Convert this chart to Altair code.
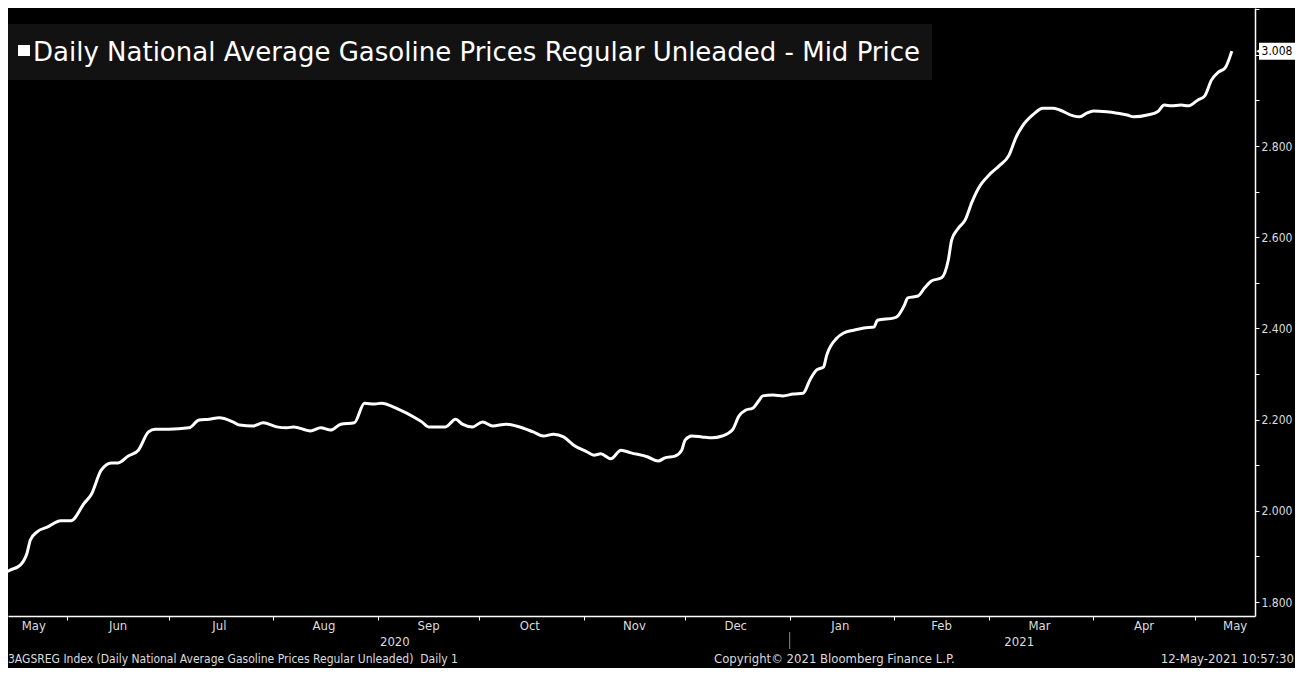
import altair as alt
import pandas as pd

# ---------------- data ----------------
dates = [
    "2020-05-12", "2020-05-15", "2020-05-18", "2020-05-20", "2020-05-21", "2020-05-23",
    "2020-05-26", "2020-05-30", "2020-06-02", "2020-06-06", "2020-06-08", "2020-06-11",
    "2020-06-14", "2020-06-16", "2020-06-19", "2020-06-22", "2020-06-25", "2020-06-27",
    "2020-07-01", "2020-07-07", "2020-07-10", "2020-07-13", "2020-07-16", "2020-07-20",
    "2020-07-22", "2020-07-26", "2020-07-29", "2020-08-02", "2020-08-05", "2020-08-07",
    "2020-08-12", "2020-08-15", "2020-08-18", "2020-08-21", "2020-08-25", "2020-08-28",
    "2020-08-31", "2020-09-02", "2020-09-07", "2020-09-12", "2020-09-14", "2020-09-16",
    "2020-09-21", "2020-09-24", "2020-09-26", "2020-09-29", "2020-10-02", "2020-10-05",
    "2020-10-09", "2020-10-12", "2020-10-17", "2020-10-20", "2020-10-23", "2020-10-26",
    "2020-10-29", "2020-11-02", "2020-11-04", "2020-11-06", "2020-11-09", "2020-11-12",
    "2020-11-15", "2020-11-20", "2020-11-23", "2020-11-25", "2020-11-28", "2020-11-30",
    "2020-12-01", "2020-12-03", "2020-12-06", "2020-12-09", "2020-12-12", "2020-12-15",
    "2020-12-17", "2020-12-19", "2020-12-21", "2020-12-23", "2020-12-24", "2020-12-27",
    "2020-12-30", "2021-01-02", "2021-01-05", "2021-01-07", "2021-01-09", "2021-01-11",
    "2021-01-12", "2021-01-15", "2021-01-17", "2021-01-20", "2021-01-23", "2021-01-26",
    "2021-01-27", "2021-02-01", "2021-02-02", "2021-02-04", "2021-02-05", "2021-02-08",
    "2021-02-10", "2021-02-12", "2021-02-15", "2021-02-17", "2021-02-18", "2021-02-20",
    "2021-02-22", "2021-02-24", "2021-02-26", "2021-02-27", "2021-03-01", "2021-03-04",
    "2021-03-07", "2021-03-09", "2021-03-11", "2021-03-14", "2021-03-17", "2021-03-20",
    "2021-03-22", "2021-03-26", "2021-03-28", "2021-03-30", "2021-04-01", "2021-04-05",
    "2021-04-08", "2021-04-11", "2021-04-13", "2021-04-17", "2021-04-20", "2021-04-22",
    "2021-04-24", "2021-04-27", "2021-04-29", "2021-05-02", "2021-05-04", "2021-05-06",
    "2021-05-08", "2021-05-10", "2021-05-12",
]
prices = [
    1.859, 1.870, 1.881, 1.907, 1.936, 1.954,
    1.964, 1.978, 1.978, 2.017, 2.035, 2.089,
    2.105, 2.105, 2.120, 2.133, 2.173, 2.179,
    2.179, 2.182, 2.199, 2.201, 2.204, 2.195,
    2.188, 2.186, 2.193, 2.184, 2.182, 2.184,
    2.175, 2.182, 2.177, 2.190, 2.193, 2.236,
    2.234, 2.236, 2.223, 2.204, 2.195, 2.184,
    2.184, 2.201, 2.190, 2.184, 2.195, 2.186,
    2.190, 2.186, 2.173, 2.164, 2.168, 2.162,
    2.144, 2.129, 2.122, 2.125, 2.114, 2.133,
    2.127, 2.118, 2.109, 2.116, 2.120, 2.133,
    2.155, 2.164, 2.162, 2.160, 2.164, 2.177,
    2.208, 2.221, 2.225, 2.243, 2.252, 2.254,
    2.252, 2.256, 2.258, 2.287, 2.309, 2.315,
    2.342, 2.379, 2.390, 2.396, 2.401, 2.403,
    2.418, 2.423, 2.427, 2.451, 2.467, 2.471,
    2.489, 2.504, 2.511, 2.550, 2.594, 2.620,
    2.638, 2.677, 2.708, 2.719, 2.736, 2.756,
    2.780, 2.818, 2.844, 2.868, 2.883, 2.883,
    2.879, 2.866, 2.864, 2.872, 2.877, 2.875,
    2.872, 2.868, 2.864, 2.868, 2.875, 2.890,
    2.888, 2.890, 2.888, 2.901, 2.910, 2.945,
    2.962, 2.971, 3.008,
]

month_ticks = [
    "2020-06-01", "2020-07-01", "2020-08-01", "2020-09-01", "2020-10-01", "2020-11-01",
    "2020-12-01", "2021-01-01", "2021-02-01", "2021-03-01", "2021-04-01", "2021-05-01",
]
month_label_dates = [
    "2020-05-22", "2020-06-16", "2020-07-16", "2020-08-16", "2020-09-16", "2020-10-16",
    "2020-11-16", "2020-12-16", "2021-01-16", "2021-02-15", "2021-03-16", "2021-04-16",
    "2021-05-13",
]
month_labels = ["May", "Jun", "Jul", "Aug", "Sep", "Oct", "Nov", "Dec",
                "Jan", "Feb", "Mar", "Apr", "May"]
year_label_dates = ["2020-09-06", "2021-03-10"]
year_labels = ["2020", "2021"]
year_divider = ["2021-01-01"]
y_tick_values = [1.8, 1.9, 2.0, 2.1, 2.2, 2.3, 2.4, 2.5, 2.6, 2.7, 2.8, 2.9, 3.0, 3.1]

title_text = "Daily National Average Gasoline Prices Regular Unleaded - Mid Price"
footer_left = "3AGSREG Index (Daily National Average Gasoline Prices Regular Unleaded)\u00a0\u00a0Daily 1"
footer_mid = "Copyright\u00a9 2021 Bloomberg Finance L.P."
footer_right = "12-May-2021 10:57:30"

# ---------------- layout / style ----------------
W, H = 1247, 608
RIGHT = 40
FONT = "DejaVu Sans Condensed"
TITLE_FONT = "DejaVu Sans"
LABEL_COLOR = "#dcdcdc"


def dt(s, hours=0):
    y, m, d = (int(p) for p in s.split("-"))
    return alt.DateTime(year=y, month=m, date=d, hours=hours, utc=True)


df = pd.DataFrame({"date": dates, "price": prices})
last_df = df.tail(1).assign(label=[f"{prices[-1]:.3f}"])
months_df = pd.DataFrame({"date": month_label_dates, "label": month_labels})
years_df = pd.DataFrame({"date": year_label_dates, "label": year_labels})
divider_df = pd.DataFrame({"date": year_divider})
title_df = pd.DataFrame({"t": [title_text]})
footer_df = pd.DataFrame({"a": [footer_left], "b": [footer_mid], "c": [footer_right]})

x_scale = alt.Scale(type="utc", domain=[dt("2020-05-14", 9), dt("2021-05-18", 21)])
y_scale = alt.Scale(domain=[1.8 - (H - 594) / 456, 1.8 + 594 / 456], zero=False, nice=False)

x_enc = alt.X(
    "date:T",
    scale=x_scale,
    axis=alt.Axis(
        values=[dt(s) for s in month_ticks],
        labels=False,
        ticks=True,
        tickSize=4,
        tickColor="white",
        domainColor="white",
        domainWidth=1.5,
        grid=False,
        title=None,
    ),
)
y_enc = alt.Y(
    "price:Q",
    scale=y_scale,
    axis=alt.Axis(
        orient="right",
        values=y_tick_values,
        labelExpr="(round(datum.value*10) % 2 == 0 && datum.value < 2.95) ? format(datum.value, '.3f') : ''",
        tickSize=4,
        tickColor="white",
        domainColor="white",
        domainWidth=1.5,
        labelColor=LABEL_COLOR,
        labelFont=FONT,
        labelFontSize=12,
        labelPadding=2,
        grid=False,
        title=None,
    ),
)

line = alt.Chart(df).mark_line(
    color="white", strokeWidth=3, interpolate="monotone", clip=True
).encode(x=x_enc, y=y_enc)

# last value tag
tag_box = alt.Chart(last_df).mark_rect(color="white", yOffset=-8.5, y2Offset=8.5).encode(
    x=alt.value(W + 4), x2=alt.value(W + RIGHT),
    y=alt.Y("price:Q", scale=y_scale), y2="price:Q",
)
tag_tip = alt.Chart(last_df).mark_point(
    shape="triangle-left", filled=True, color="white", size=45, opacity=1
).encode(x=alt.value(W + 4), y=alt.Y("price:Q", scale=y_scale))
tag_text = alt.Chart(last_df).mark_text(
    color="black", font=FONT, fontSize=12, align="center", baseline="middle"
).encode(x=alt.value(W + 22), y=alt.Y("price:Q", scale=y_scale), text="label:N")

# title box
title_box = alt.Chart(title_df).mark_rect(color="#121212").encode(
    x=alt.value(0), x2=alt.value(924), y=alt.value(16), y2=alt.value(72)
)
title_bullet = alt.Chart(title_df).mark_rect(color="white").encode(
    x=alt.value(10), x2=alt.value(22), y=alt.value(37), y2=alt.value(48)
)
title_txt = alt.Chart(title_df).mark_text(
    color="white", font=TITLE_FONT, fontSize=26, align="left", baseline="middle"
).encode(x=alt.value(25), y=alt.value(45), text="t:N")

# month / year labels
month_txt = alt.Chart(months_df).mark_text(
    color=LABEL_COLOR, font=FONT, fontSize=13, align="center", baseline="middle"
).encode(x=alt.X("date:T", scale=x_scale), y=alt.value(H + 10), text="label:N")
year_txt = alt.Chart(years_df).mark_text(
    color=LABEL_COLOR, font=FONT, fontSize=13, align="center", baseline="middle"
).encode(x=alt.X("date:T", scale=x_scale), y=alt.value(H + 26), text="label:N")
divider = alt.Chart(divider_df).mark_rule(color="#8a8a8a", strokeWidth=1).encode(
    x=alt.X("date:T", scale=x_scale), y=alt.value(H + 16), y2=alt.value(H + 33)
)

# footer
foot_a = alt.Chart(footer_df).mark_text(
    color=LABEL_COLOR, font=FONT, fontSize=12, align="left", baseline="middle"
).encode(x=alt.value(0), y=alt.value(H + 43), text="a:N")
foot_b = alt.Chart(footer_df).mark_text(
    color=LABEL_COLOR, font=FONT, fontSize=13, align="left", baseline="middle"
).encode(x=alt.value(706), y=alt.value(H + 43), text="b:N")
foot_c = alt.Chart(footer_df).mark_text(
    color=LABEL_COLOR, font=FONT, fontSize=13, align="right", baseline="middle"
).encode(x=alt.value(W + RIGHT - 1), y=alt.value(H + 43), text="c:N")

chart = alt.layer(
    title_box, title_bullet, title_txt,
    line,
    month_txt, year_txt, divider,
    tag_box, tag_tip, tag_text,
    foot_a, foot_b, foot_c,
).properties(
    width=W, height=H,
    padding={"left": 0, "top": 0, "right": RIGHT, "bottom": 52},
    autosize=alt.AutoSizeParams(type="none"),
    background="black",
).configure_view(stroke=None)

chart.save("out.html", embed_options={"renderer": "svg", "actions": False})
